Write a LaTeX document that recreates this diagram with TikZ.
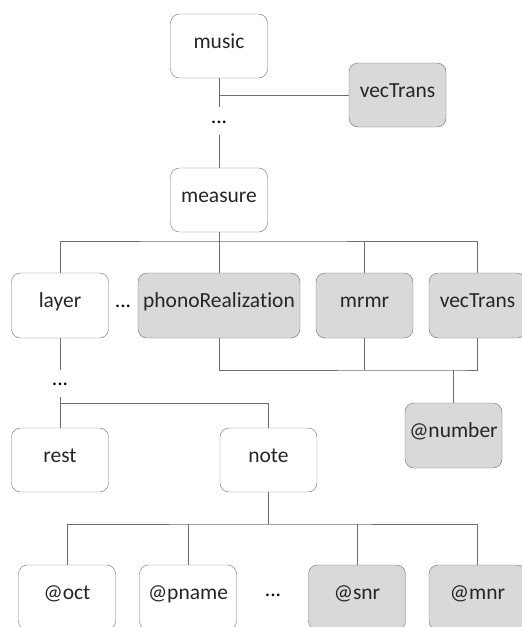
\documentclass[tikz,border=0pt]{standalone}
\usepackage{fontspec}
\setmainfont{Carlito}[Ligatures=NoCommon]
\definecolor{boxline}{HTML}{6E6E6E}
\definecolor{boxfill}{HTML}{D9D9D9}

\begin{document}
\begin{tikzpicture}[x=1pt, y=-1pt, font=\fontsize{21.5}{24}\selectfont,
  elem/.style={draw=boxline, rounded corners=9pt, minimum width=97pt, minimum height=64pt,
               inner sep=0pt, text height=1.4ex, text depth=0.4ex, text=black!85},
  attr/.style={elem, fill=boxfill},
  gap/.style={inner sep=0pt, minimum height=27pt, text height=1ex, text depth=0pt},
  link/.style={draw=boxline, thin}]

% page frame
\useasboundingbox (0,0) rectangle (522,627);
\clip (0,0) rectangle (522,627);

% top level
\node[elem] (music) at (219,46) {music};
\node[attr] (vtTop) at (397.5,95) {vecTrans};
\node[gap] (dotsA) at (219,121) {...};
\node[elem] (measure) at (219,200) {measure};
\draw[link] (music.south) -- (dotsA.north);
\draw[link] (vtTop.west) -- (vtTop.west -| music.south);
\draw[link] (dotsA.south) -- (measure.north);

% children of measure
\node[elem, minimum height=65pt] (layer) at (60,305.5) {layer};
\node[gap] (dotsB) at (123,305.5) {...};
\node[attr, minimum height=65pt, minimum width=162pt] (phono) at (219,305.5) {phonoRealization};
\node[attr, minimum height=65pt] (mrmr) at (364.5,305.5) {mrmr};
\node[attr, minimum height=65pt] (vtMid) at (477.5,305.5) {vecTrans};
\coordinate (busA) at (219,241);
\draw[link] (measure.south) -- (busA);
\draw[link] (layer.north) |- (busA) -| (vtMid.north);
\draw[link] (busA) -- (phono.north);
\draw[link] (mrmr.north) -- (mrmr.north |- busA);

% shared attribute
\node[attr, minimum height=65pt] (number) at (453.5,435.5) {@number};
\coordinate (busB) at (453.5,370);
\draw[link] (phono.south) |- (busB) -| (vtMid.south);
\draw[link] (mrmr.south) -- (mrmr.south |- busB);
\draw[link] (busB) -- (number.north);

% layer content
\node[gap] (dotsC) at (60,383.5) {...};
\node[elem] (rest) at (60,460) {rest};
\node[elem] (note) at (268.5,460) {note};
\coordinate (busC) at (60,403);
\draw[link] (layer.south) -- (dotsC.north);
\draw[link] (dotsC.south) -- (rest.north);
\draw[link] (busC) -| (note.north);

% note attributes
\node[elem, minimum height=65pt] (oct) at (67,597.5) {@oct};
\node[elem, minimum height=65pt] (pname) at (188,597.5) {@pname};
\node[gap] (dotsD) at (273,594) {...};
\node[attr, minimum height=65pt] (snr) at (357,597.5) {@snr};
\node[attr, minimum height=65pt] (mnr) at (477.5,597.5) {@mnr};
\coordinate (busD) at (268.5,524);
\draw[link] (note.south) -- (busD);
\draw[link] (oct.north) |- (busD) -| (mnr.north);
\draw[link] (pname.north) -- (pname.north |- busD);
\draw[link] (snr.north) -- (snr.north |- busD);
\end{tikzpicture}
\end{document}
